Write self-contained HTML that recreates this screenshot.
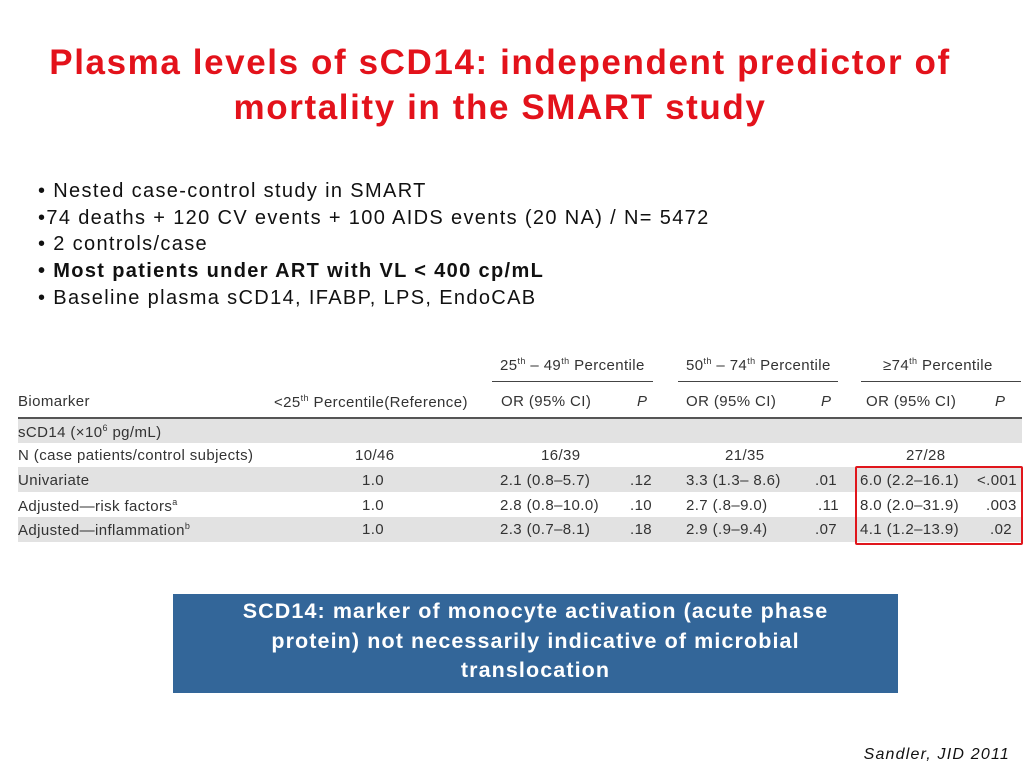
<!DOCTYPE html>
<html><head><meta charset="utf-8"><style>
body{margin:0;width:1024px;height:768px;background:#fff;position:relative;overflow:hidden;font-family:"Liberation Sans",sans-serif}
.a{position:absolute;white-space:nowrap}
.title{left:0;width:1000px;text-align:center;color:#e3121b;font-weight:bold;font-size:35px;line-height:45px;top:40px;letter-spacing:1.6px}
.b{left:38px;font-size:20px;color:#111;letter-spacing:1.35px}
.t{font-size:15px;color:#333;letter-spacing:0.4px}
.band{position:absolute;left:18px;width:1004px;height:25px;background:#e2e2e2}
.ln{position:absolute;height:1px;background:#444}
</style></head><body>
<div class="a title">Plasma levels of sCD14: independent predictor of<br>mortality in the SMART study</div>
<div class="a b" style="top:180px">• Nested case-control study in SMART</div>
<div class="a b" style="top:207px">•74 deaths + 120 CV events + 100 AIDS events (20 NA) / N= 5472</div>
<div class="a b" style="top:233px">• 2 controls/case</div>
<div class="a b" style="top:260px;font-weight:bold">• Most patients under ART with VL &lt; 400 cp/mL</div>
<div class="a b" style="top:287px">• Baseline plasma sCD14, IFABP, LPS, EndoCAB</div>

<div>
<div class="band" style="top:418px"></div>
<div class="band" style="top:467px"></div>
<div class="band" style="top:517px"></div>
<div class="ln" style="left:18px;width:1004px;top:417px;height:2px;background:#555"></div>
<div class="ln" style="left:492px;width:161px;top:381px"></div>
<div class="ln" style="left:678px;width:160px;top:381px"></div>
<div class="ln" style="left:861px;width:160px;top:381px"></div>
<div class="a t" style="left:500px;top:356px">25<sup style="font-size:9px">th</sup> – 49<sup style="font-size:9px">th</sup> Percentile</div>
<div class="a t" style="left:686px;top:356px">50<sup style="font-size:9px">th</sup> – 74<sup style="font-size:9px">th</sup> Percentile</div>
<div class="a t" style="left:883px;top:356px">≥74<sup style="font-size:9px">th</sup> Percentile</div>
<div class="a t" style="left:18px;top:393px">Biomarker</div>
<div class="a t" style="left:274px;top:393px">&lt;25<sup style="font-size:9px">th</sup> Percentile(Reference)</div>
<div class="a t" style="left:501px;top:393px">OR (95% CI)</div><div class="a t" style="left:637px;top:393px;font-style:italic">P</div>
<div class="a t" style="left:686px;top:393px">OR (95% CI)</div><div class="a t" style="left:821px;top:393px;font-style:italic">P</div>
<div class="a t" style="left:866px;top:393px">OR (95% CI)</div><div class="a t" style="left:995px;top:393px;font-style:italic">P</div>
<div class="a t" style="left:18px;top:423px">sCD14 (×10<sup style="font-size:9px">6</sup> pg/mL)</div>
<div class="a t" style="left:18px;top:447px">N (case patients/control subjects)</div>
<div class="a t" style="left:355px;top:447px">10/46</div>
<div class="a t" style="left:541px;top:447px">16/39</div>
<div class="a t" style="left:725px;top:447px">21/35</div>
<div class="a t" style="left:906px;top:447px">27/28</div>
<div class="a t" style="left:18px;top:472px">Univariate</div>
<div class="a t" style="left:362px;top:472px">1.0</div>
<div class="a t" style="left:500px;top:472px">2.1 (0.8–5.7)</div><div class="a t" style="left:630px;top:472px">.12</div>
<div class="a t" style="left:686px;top:472px">3.3 (1.3– 8.6)</div><div class="a t" style="left:815px;top:472px">.01</div>
<div class="a t" style="left:860px;top:472px">6.0 (2.2–16.1)</div><div class="a t" style="left:977px;top:472px">&lt;.001</div>
<div class="a t" style="left:18px;top:497px">Adjusted—risk factors<sup style="font-size:9px">a</sup></div>
<div class="a t" style="left:362px;top:497px">1.0</div>
<div class="a t" style="left:500px;top:497px">2.8 (0.8–10.0)</div><div class="a t" style="left:630px;top:497px">.10</div>
<div class="a t" style="left:686px;top:497px">2.7 (.8–9.0)</div><div class="a t" style="left:818px;top:497px">.11</div>
<div class="a t" style="left:860px;top:497px">8.0 (2.0–31.9)</div><div class="a t" style="left:986px;top:497px">.003</div>
<div class="a t" style="left:18px;top:521px">Adjusted—inflammation<sup style="font-size:9px">b</sup></div>
<div class="a t" style="left:362px;top:521px">1.0</div>
<div class="a t" style="left:500px;top:521px">2.3 (0.7–8.1)</div><div class="a t" style="left:630px;top:521px">.18</div>
<div class="a t" style="left:686px;top:521px">2.9 (.9–9.4)</div><div class="a t" style="left:815px;top:521px">.07</div>
<div class="a t" style="left:860px;top:521px">4.1 (1.2–13.9)</div><div class="a t" style="left:990px;top:521px">.02</div>
<div class="a" style="left:855px;top:466px;width:164px;height:75px;border:2px solid #e0161c;border-radius:2px"></div>
</div>

<div class="a" style="left:173px;top:594px;width:725px;height:99px;background:#336699;color:#fff;font-weight:bold;font-size:21.5px;line-height:29.5px;letter-spacing:1.1px;text-align:center;white-space:normal;padding-top:3px;box-sizing:border-box">SCD14: marker of monocyte activation (acute phase<br>protein) not necessarily indicative of microbial<br>translocation</div>
<div class="a" style="right:14px;top:746px;font-style:italic;font-size:16px;color:#111;letter-spacing:1.2px">Sandler, JID 2011</div>
</body></html>
